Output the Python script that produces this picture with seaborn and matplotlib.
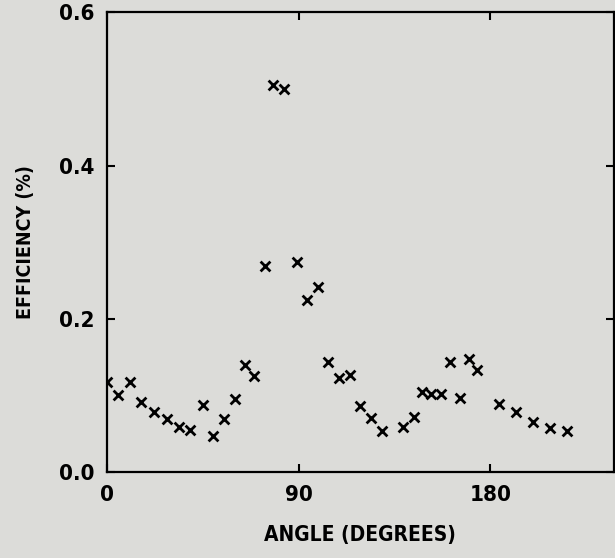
import seaborn as sns
import pandas as pd
import matplotlib.pyplot as plt

angle = [0, 5, 11, 16, 22, 28, 34, 39, 45, 50, 55, 60, 65, 69, 74, 78, 83,
         89, 94, 99, 104, 109, 114, 119, 124, 129, 139, 144, 148, 152, 157,
         161, 166, 170, 174, 184, 192, 200, 208, 216]
efficiency = [0.117, 0.100, 0.117, 0.091, 0.079, 0.069, 0.059, 0.055, 0.087,
              0.047, 0.069, 0.096, 0.140, 0.126, 0.269, 0.505, 0.500, 0.274,
              0.225, 0.241, 0.143, 0.123, 0.127, 0.086, 0.070, 0.053, 0.059,
              0.072, 0.104, 0.102, 0.102, 0.143, 0.097, 0.147, 0.133, 0.089,
              0.079, 0.065, 0.057, 0.054]

df = pd.DataFrame({"angle": angle, "efficiency": efficiency})

bg = "#dcdcd9"
sns.set_style("ticks")
plt.rcParams['font.family'] = ['DejaVu Sans']
plt.rcParams['font.stretch'] = 'condensed'
plt.rcParams['font.weight'] = 'bold'
plt.rcParams['text.color'] = 'black'
plt.rcParams['axes.labelcolor'] = 'black'

fig = plt.figure(figsize=(6.15, 5.58), dpi=100, facecolor=bg)
ax = fig.add_axes([0.174, 0.154, 0.824, 0.824])
ax.set_facecolor(bg)

sns.scatterplot(data=df, x="angle", y="efficiency", marker="x", color="black",
                s=50, linewidth=2.0, ax=ax, zorder=3)

ax.set_xlim(0, 238)
ax.set_ylim(0, 0.6)
ax.set_xticks([0, 90, 180])
ax.set_yticks([0.0, 0.2, 0.4, 0.6])
ax.set_yticklabels(["0.0", "0.2", "0.4", "0.6"])
ax.tick_params(direction="in", length=6, width=1.5, top=True, right=True,
               labelsize=16, pad=9, colors="black")
for sp in ax.spines.values():
    sp.set_linewidth(1.6)
    sp.set_color("black")

ax.set_xlabel("ANGLE (DEGREES)", fontsize=15, fontweight="bold", labelpad=15)
ax.set_ylabel("EFFICIENCY (%)", fontsize=14, fontweight="bold", labelpad=17)

fig.savefig("out.png", dpi=100, facecolor=bg)
